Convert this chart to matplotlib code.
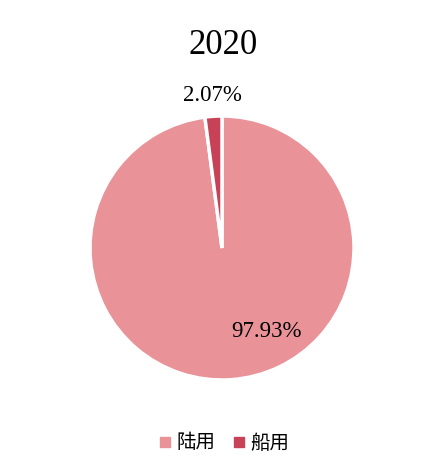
import numpy as np
import matplotlib
matplotlib.use("Agg")
import matplotlib.pyplot as plt

plt.rcParams['font.family'] = ['Liberation Serif', 'Noto Sans CJK SC', 'DejaVu Sans']

title = "2020"
categories = ["陆用", "船用"]
shares = [97.93, 2.07]
colors = ["#E99399", "#C84257"]

fig = plt.figure(figsize=(4.26, 4.73), dpi=100)
# pie centre ~ (222, 248) px, radius ~132 px
r_px = 132
ax = fig.add_axes([(222 - r_px) / 426, 1 - (248 + r_px) / 473,
                   2 * r_px / 426, 2 * r_px / 473])

wedges, _ = ax.pie(shares, colors=colors, startangle=90, counterclock=False,
                   radius=1.0, wedgeprops=dict(edgecolor="white", linewidth=2.5))
ax.set_xlim(-1, 1)
ax.set_ylim(-1, 1)
ax.set_aspect("equal")
ax.axis("off")

# labels: big slice inside, small slice outside
ang_big = np.deg2rad(-61.8)
ax.text(0.72 * np.cos(ang_big), 0.72 * np.sin(ang_big), f"{shares[0]:.2f}%",
        ha="center", va="center", fontsize=16.5, family="Liberation Serif")
w = wedges[1]
mid = np.deg2rad((w.theta1 + w.theta2) / 2)
ax.text(1.16 * np.cos(mid), 1.16 * np.sin(mid), f"{shares[1]:.2f}%",
        ha="center", va="center", fontsize=16.5, family="Liberation Serif")

fig.text(223 / 426, 1 - 45 / 473, title, ha="center", va="center",
         fontsize=25, family="Liberation Serif")

handles = [plt.Line2D([], [], marker="s", linestyle="none", markersize=7,
                      markerfacecolor=c, markeredgecolor=c) for c in colors]
fig.legend(handles, categories, loc="center", bbox_to_anchor=(223 / 426, 1 - 443 / 473),
           ncol=2, frameon=False, handletextpad=0.2, columnspacing=0.8,
           handlelength=0.8, prop=dict(family="Noto Sans CJK SC", size=14))

fig.savefig("out.png", dpi=100)
